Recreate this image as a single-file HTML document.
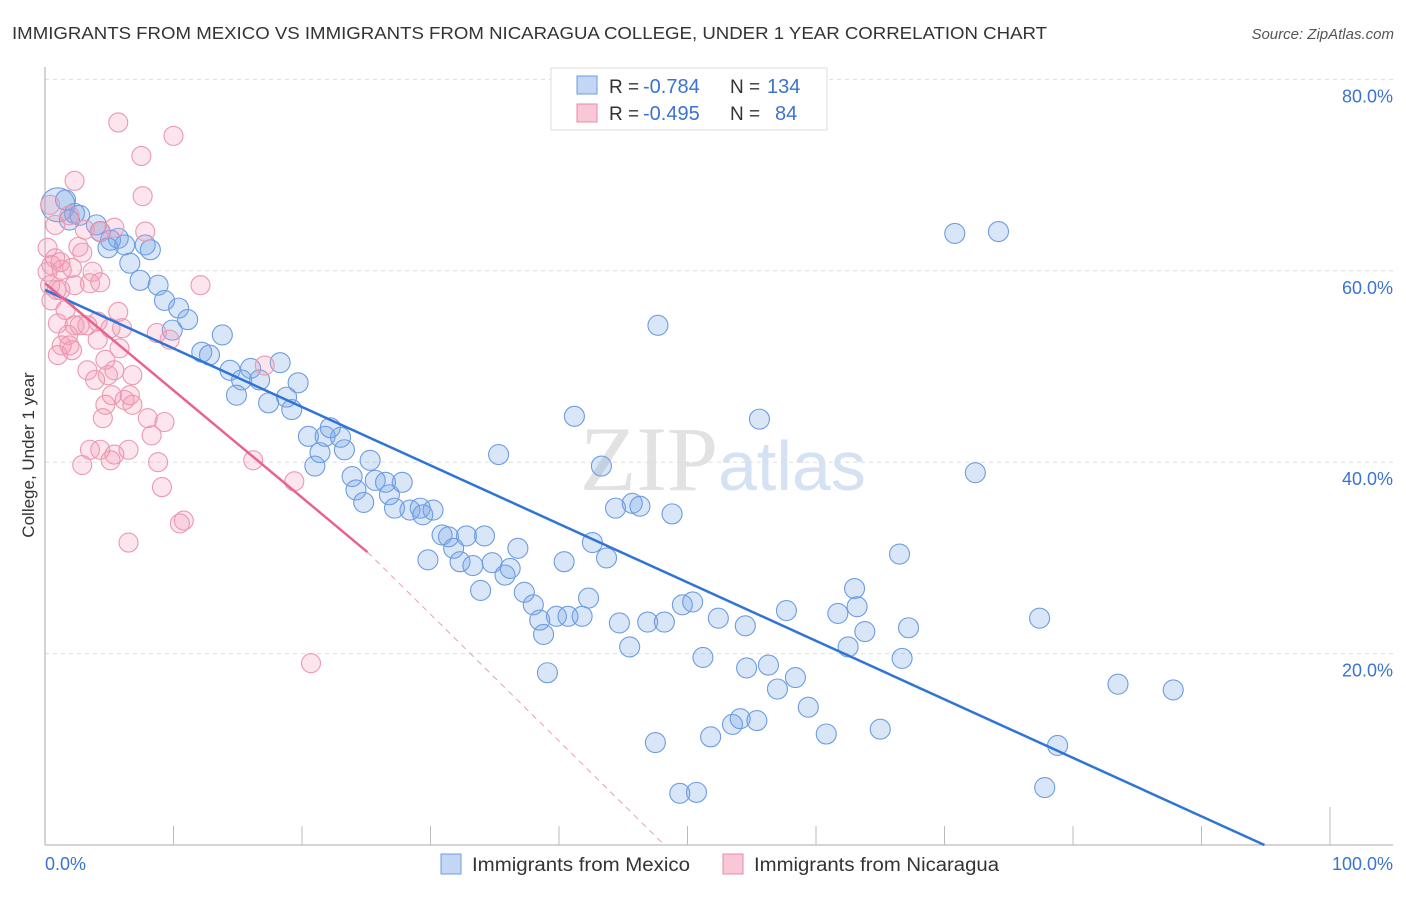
<!DOCTYPE html>
<html><head><meta charset="utf-8"><style>
body{margin:0;background:#fff;font-family:"Liberation Sans",sans-serif}
</style></head><body>
<svg width="1406" height="892" xmlns="http://www.w3.org/2000/svg" font-family="Liberation Sans, sans-serif">
<text x="12" y="39" font-size="17.5" fill="#333" textLength="1035" lengthAdjust="spacingAndGlyphs">IMMIGRANTS FROM MEXICO VS IMMIGRANTS FROM NICARAGUA COLLEGE, UNDER 1 YEAR CORRELATION CHART</text>
<text x="1394" y="39" font-size="15" fill="#555" font-style="italic" text-anchor="end">Source: ZipAtlas.com</text>
<text x="718" y="490" font-size="92" fill="#e2e2e2" text-anchor="end" font-family="Liberation Serif, serif">ZIP</text>
<text x="718" y="490" font-size="70" fill="#d5e2f4">atlas</text>
<g id="grid"></g>
<g id="axes"></g>
<g id="pts"></g>
<g id="lines"></g>
<text transform="translate(34,455) rotate(-90)" font-size="17" fill="#333" text-anchor="middle">College, Under 1 year</text>
<g>
<rect x="551" y="68" width="276" height="62" fill="#fff" stroke="#ddd"/>
<rect x="577" y="76" width="20" height="18" fill="#c3d7f5" stroke="#6a9be0"/>
<rect x="577" y="104" width="20" height="18" fill="#f9c8d6" stroke="#e88aa5"/>
<text x="609" y="93" font-size="19" fill="#333">R = </text><text x="643" y="93" font-size="20" fill="#3b73d1">-0.784</text>
<text x="730" y="93" font-size="19" fill="#333">N = </text><text x="767" y="93" font-size="20" fill="#3b73d1">134</text>
<text x="609" y="120" font-size="19" fill="#333">R = </text><text x="643" y="120" font-size="20" fill="#3b73d1">-0.495</text>
<text x="730" y="120" font-size="19" fill="#333">N = </text><text x="775" y="120" font-size="20" fill="#3b73d1">84</text>
</g>
<g>
<rect x="441" y="854" width="20" height="20" fill="#c3d7f5" stroke="#6a9be0"/>
<text x="472" y="871" font-size="19" fill="#333" textLength="218" lengthAdjust="spacingAndGlyphs">Immigrants from Mexico</text>
<rect x="723" y="854" width="20" height="20" fill="#f9c8d6" stroke="#e88aa5"/>
<text x="754" y="871" font-size="19" fill="#333" textLength="245" lengthAdjust="spacingAndGlyphs">Immigrants from Nicaragua</text>
</g>
</svg>
<script>
const yTicks=[20,40,60,80];
const yTickLabels=["20.0%","40.0%","60.0%","80.0%"];
const xTickLabels=["0.0%","100.0%"];
const blueX=[1.0,1.6,2.3,1.9,2.7,4.0,4.3,5.1,5.7,6.2,4.9,7.8,8.2,6.6,7.4,8.8,9.3,10.4,11.1,9.9,13.8,12.2,12.8,14.4,16.0,18.3,15.3,16.7,14.9,17.4,18.8,19.7,19.2,20.5,21.8,23.0,22.2,21.4,23.3,21.0,25.3,23.9,24.2,24.8,25.7,26.5,26.8,27.8,27.2,28.4,29.2,30.2,29.4,30.9,31.4,31.8,32.8,34.2,29.8,32.3,33.3,34.8,35.8,36.2,33.9,35.3,41.2,43.3,36.8,37.3,38.0,38.5,38.8,40.4,42.6,43.7,42.3,44.4,45.7,46.3,47.7,48.8,39.8,40.7,41.8,44.7,45.5,46.9,48.2,49.6,50.4,52.4,51.2,54.5,55.6,57.7,61.7,63.2,63.0,63.8,62.5,66.7,67.2,66.5,70.8,74.2,72.4,77.4,83.5,87.8,78.8,77.8,39.1,47.5,49.4,50.7,51.8,53.5,54.1,55.4,54.6,56.3,57.0,58.4,59.4,60.8,65.0];
const blueY=[66.9,67.4,66.0,65.3,65.8,64.8,64.1,63.2,63.4,62.7,62.4,62.7,62.2,60.8,59.0,58.5,56.9,56.1,54.9,53.8,53.3,51.5,51.2,49.6,49.8,50.4,48.6,48.6,47.0,46.2,46.8,48.3,45.5,42.7,42.7,42.6,43.6,41.0,41.3,39.6,40.2,38.5,37.1,35.8,38.1,37.9,36.6,37.9,35.2,35.0,35.2,35.0,34.5,32.4,32.2,31.0,32.3,32.3,29.8,29.6,29.2,29.5,28.2,28.9,26.6,40.8,44.8,39.6,31.0,26.4,25.1,23.5,22.0,29.6,31.6,30.0,25.8,35.2,35.7,35.4,54.3,34.6,23.9,23.9,23.9,23.2,20.7,23.3,23.3,25.1,25.4,23.7,19.6,22.9,44.5,24.5,24.2,24.9,26.8,22.3,20.7,19.5,22.7,30.4,63.9,64.1,38.9,23.7,16.8,16.2,10.4,6.0,18.0,10.7,5.4,5.5,11.3,12.6,13.2,13.0,18.5,18.8,16.3,17.5,14.4,11.6,12.1];
const pinkX=[5.7,10.0,7.5,7.6,2.3,0.4,0.8,1.9,3.1,4.3,5.4,7.8,0.2,0.8,2.6,1.2,2.9,0.2,1.3,2.1,3.7,0.4,0.9,2.3,3.5,4.3,0.5,1.6,2.7,1.0,2.3,3.3,4.1,4.1,1.3,2.1,5.7,6.0,5.1,1.0,1.9,4.7,5.8,3.3,4.9,5.4,6.8,6.2,6.8,5.2,4.5,8.0,9.3,8.3,3.5,4.3,6.5,5.4,5.1,2.9,8.8,9.1,10.5,10.8,6.5,8.7,9.7,12.1,16.2,17.1,19.4,20.7,4.7,6.6,3.9,0.5,1.2,1.8];
const pinkY=[75.5,74.1,72.0,67.8,69.4,66.9,64.8,65.8,64.3,64.1,64.5,64.1,62.4,61.3,62.5,60.9,61.9,59.9,60.1,60.3,59.9,58.5,58.0,58.5,58.7,58.8,56.9,55.9,54.3,54.5,54.3,54.3,54.7,52.8,52.2,51.7,55.7,54.0,54.0,51.2,52.2,50.7,51.9,49.6,49.1,49.6,49.1,46.5,46.0,47.0,44.6,44.6,44.2,42.8,41.3,41.3,41.3,40.8,40.2,39.7,40.0,37.4,33.6,33.9,31.6,53.5,52.8,58.5,40.2,50.1,38.0,19.0,46.0,47.0,48.6,60.6,58.0,53.3];
const blueTrend=[[0,58.0],[94.9,0]];
const pinkTrend=[[0,58.7],[25.1,30.6],[48.2,0]];
const NS="http://www.w3.org/2000/svg";
const X=v=>45+v*12.85, Y=v=>845-v*9.57;
function mk(t,a,p){const e=document.createElementNS(NS,t);for(const k in a)e.setAttribute(k,a[k]);document.getElementById(p).appendChild(e);return e;}
yTicks.forEach((t,i)=>{
 const g=mk('line',{x1:45,x2:1393,y1:Y(t),y2:Y(t),stroke:'#ddd','stroke-dasharray':'4,4'},'grid');
 
 
 const l=mk('text',{x:1393,y:Y(t)+23,'font-size':18,fill:'#3b73d1','text-anchor':'end'},'axes');
 l.textContent=yTickLabels[i];
 
 
});
let ax=mk('line',{x1:45,x2:1393,y1:845,y2:845,stroke:'#aaa'},'axes');


let ay=mk('line',{x1:45,x2:45,y1:67,y2:845,stroke:'#aaa'},'axes');


for(let i=1;i<=10;i++){
 const t=mk('line',{x1:X(i*10),x2:X(i*10),y1:i==10?807:826,y2:845,stroke:'#bbb'},'axes');
 
 
}
[[0,'start',45],[100,'end',1393]].forEach((d,i)=>{
 const l=mk('text',{x:d[2],y:870,'font-size':18,fill:'#3b73d1','text-anchor':d[1]},'axes');
 l.textContent=xTickLabels[i];
 
 
});
blueX.forEach((v,i)=>{
 const c=mk('circle',{cx:X(v),cy:Y(blueY[i]),r:i==0?17:10,fill:'rgba(120,165,230,0.28)',stroke:'#6d9ce0','stroke-width':1.1},'pts');
 
 
});
pinkX.forEach((v,i)=>{
 const c=mk('circle',{cx:X(v),cy:Y(pinkY[i]),r:9.5,fill:'rgba(245,150,178,0.25)',stroke:'#eb98b0','stroke-width':1.1},'pts');
 
 
});
let bl=mk('line',{x1:X(blueTrend[0][0]),y1:Y(blueTrend[0][1]),x2:X(blueTrend[1][0]),y2:Y(blueTrend[1][1]),stroke:'#2f74d6','stroke-width':2.5},'lines');


let pl=mk('line',{x1:X(pinkTrend[0][0]),y1:Y(pinkTrend[0][1]),x2:X(pinkTrend[1][0]),y2:Y(pinkTrend[1][1]),stroke:'#e8648e','stroke-width':2.5},'lines');


let pd=mk('line',{x1:X(pinkTrend[1][0]),y1:Y(pinkTrend[1][1]),x2:X(pinkTrend[2][0]),y2:Y(pinkTrend[2][1]),stroke:'#e8a0b5','stroke-width':1,'stroke-dasharray':'6,5'},'lines');


</script>
</body></html>
